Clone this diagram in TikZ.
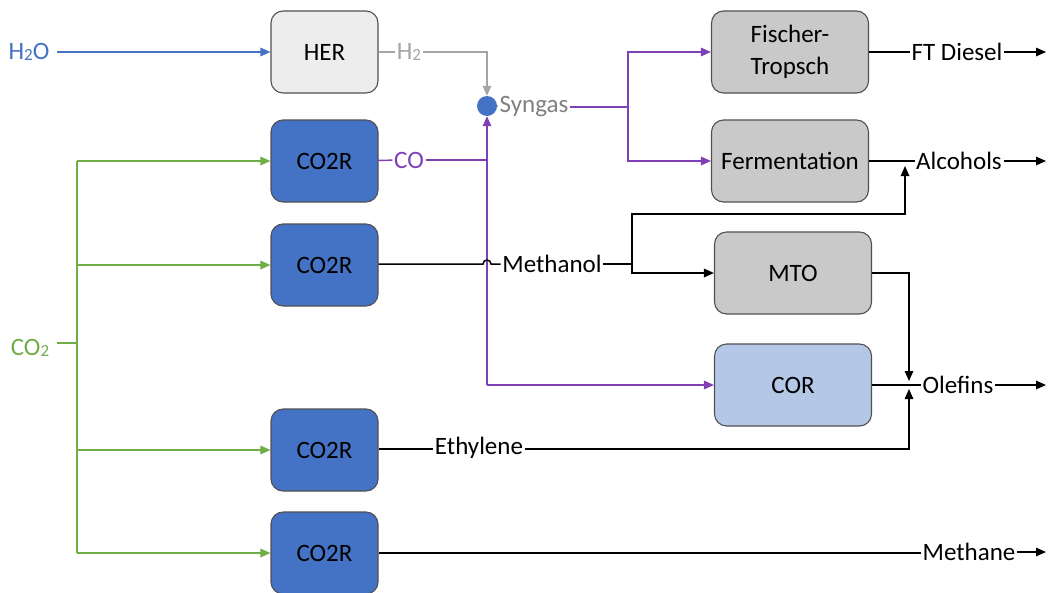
\documentclass[tikz,border=0pt]{standalone}
\usepackage{fontspec}
\setmainfont{Carlito}
\usetikzlibrary{arrows.meta}
\definecolor{obl}{HTML}{4472C4}
\definecolor{lbl}{HTML}{B4C7E7}
\definecolor{pgray}{HTML}{C9C9C9}
\definecolor{lgray}{HTML}{EDEDED}
\definecolor{bord}{HTML}{505050}
\definecolor{grn}{HTML}{70AD47}
\definecolor{pur}{HTML}{7F3FB5}
\definecolor{hgray}{HTML}{A5A5A5}
\definecolor{sgray}{HTML}{808080}
\newcommand{\subtwo}{\raisebox{-0.5pt}{\fontsize{17}{20}\selectfont 2}}
\begin{document}
\begin{tikzpicture}[x=1pt,y=-1pt,
  font=\fontsize{25}{30}\selectfont,
  proc/.style={draw=bord, line width=1.1pt, rounded corners=12pt, minimum height=82pt, align=center, inner sep=0pt},
  small/.style={proc, minimum width=107pt},
  wide/.style={proc, minimum width=157pt},
  lab/.style={inner sep=1.5pt},
  tip/.style={-{Triangle[length=10pt,width=8.5pt]}},
  bl/.style={line width=1.5pt, black},
  gl/.style={line width=1.5pt, grn},
  pl/.style={line width=1.5pt, pur},
  hl/.style={line width=1.5pt, hgray},
  wl/.style={line width=1.5pt, obl}]
\useasboundingbox (0,0) rectangle (1048,592);

% process boxes
\node[small, fill=lgray] (her) at (324.5,52) {HER};
\node[small, fill=obl] (c1) at (324.5,161) {CO2R};
\node[small, fill=obl] (c2) at (324.5,265) {CO2R};
\node[small, fill=obl] (c3) at (324.5,450) {CO2R};
\node[small, fill=obl] (c4) at (324.5,553) {CO2R};
\node[wide, fill=pgray] (ft) at (790,52) {Fischer-\\[2pt]Tropsch};
\node[wide, fill=pgray] (ferm) at (790,161) {Fermentation};
\node[wide, fill=pgray] (mto) at (793,273) {MTO};
\node[wide, fill=lbl] (cor) at (793,385) {COR};
\node[circle, fill=obl, minimum size=20pt, inner sep=0pt] (circ) at (487,106) {};

% labels
\node[lab, text=obl] (h2o) at (29,52) {H\subtwo O};
\node[lab, text=grn] (co2) at (30,348) {CO\subtwo};
\node[lab, text=hgray] (h2) at (409,52) {H\subtwo};
\node[lab, text=sgray] (syn) at (534,107) {Syngas};
\node[lab, text=pur] (co) at (409,160) {CO};
\node[lab] (meth) at (552,264) {Methanol};
\node[lab] (eth) at (479,448) {Ethylene};
\node[lab] (ftd) at (957,52) {FT Diesel};
\node[lab] (alc) at (959,161) {Alcohols};
\node[lab] (ole) at (958,385) {Olefins};
\node[lab] (mth) at (969,552) {Methane};

% junction coordinates
\coordinate (g0) at (77,343);
\coordinate (g1) at (77,161);
\coordinate (g2) at (77,265);
\coordinate (g3) at (77,450);
\coordinate (g4) at (77,553);
\coordinate (hj) at (487,52);
\coordinate (coj) at (487,160);
\coordinate (cob) at (487,385);
\coordinate (sj) at (628,107);
\coordinate (hopa) at (483,264);
\coordinate (mj) at (632,264);
\coordinate (m1) at (632,214);
\coordinate (m2) at (905,214);
\coordinate (at) at (905,166);
\coordinate (m3) at (632,273);
\coordinate (o1) at (909,273);
\coordinate (ot) at (909,381);
\coordinate (eb) at (909,449);
\coordinate (et) at (909,389);
\coordinate (e1) at (1046,52);
\coordinate (e2) at (1046,161);
\coordinate (e3) at (1046,385);
\coordinate (e4) at (1046,552);

% water / hydrogen
\draw[wl, tip, shorten <=6pt] (h2o) -- (her);
\draw[hl] (her) -- (h2);
\draw[hl, tip] (h2) -- (hj) -- (circ);
\draw[hl] (circ) -- (syn);

% CO2 feed
\draw[gl, shorten <=6pt] (co2.east |- g0) -- (g0);
\draw[gl] (g1) -- (g4);
\draw[gl, tip] (g1) -- (c1);
\draw[gl, tip] (g2) -- (c2);
\draw[gl, tip] (g3) -- (c3);
\draw[gl, tip] (g4) -- (c4);

% CO / syngas
\draw[pl] (c1) -- (co);
\draw[pl] (co) -- (coj);
\draw[pl, tip] (cob) -- (circ);
\draw[pl, tip] (cob) -- (cor);
\draw[pl] (syn) -- (sj);
\draw[pl, tip] (sj) |- (ft);
\draw[pl, tip] (sj) |- (ferm);

% methanol
\draw[bl] (c2.east |- hopa) -- (hopa) arc[start angle=180, end angle=360, radius=4] -- (meth);
\draw[bl] (meth) -- (mj);
\draw[bl, tip] (mj) -- (m1) -- (m2) -- (at);
\draw[bl, tip] (mj) -- (m3) -- (mto);

% products
\draw[bl] (ft) -- (ftd);
\draw[bl, tip] (ftd) -- (e1);
\draw[bl] (ferm) -- (alc);
\draw[bl, tip] (alc) -- (e2);
\draw[bl, tip] (mto) -- (o1) -- (ot);
\draw[bl] (cor) -- (ole);
\draw[bl, tip] (ole) -- (e3);
\draw[bl] (c3.east |- eb) -- (eth.west |- eb);
\draw[bl, tip] (eth.east |- eb) -- (eb) -- (et);
\draw[bl] (c4) -- (c4.east -| mth.west);
\draw[bl, tip] (mth) -- (e4);
\end{tikzpicture}
\end{document}
